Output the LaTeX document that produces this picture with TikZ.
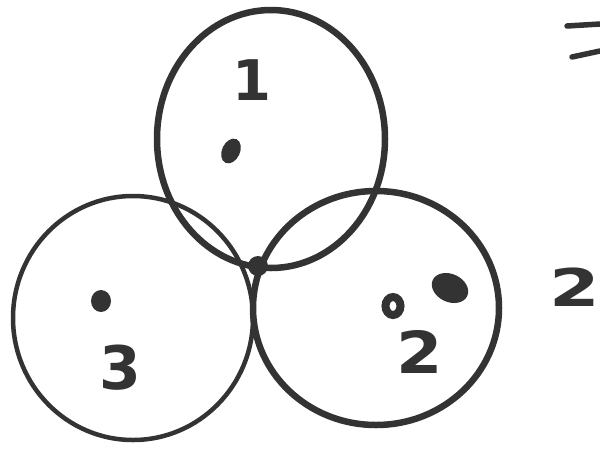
\documentclass[tikz,border=0pt]{standalone}
\usepackage{fontspec}
\setmainfont{DejaVu Sans}
\definecolor{ink}{HTML}{333333}
\begin{document}
\begin{tikzpicture}[x=1pt,y=-1pt,
  ring/.style={draw=ink,line width=6.5pt},
  thinring/.style={draw=ink,line width=4.5pt},
  stroke/.style={draw=ink,line width=5.5pt,line cap=round,line join=round},
  blob/.style={fill=ink},
  lab/.style={text=ink,font=\bfseries\fontsize{56}{56}\selectfont,inner sep=0pt}]
\useasboundingbox (0,0) rectangle (600,448);
% circles
\draw[ring] (271,139) ellipse [x radius=114, y radius=129];
\draw[thinring] (133,318) ellipse [x radius=120, y radius=122];
\draw[ring] (376,308) ellipse [x radius=123, y radius=117];
% junction
\fill[ink] (258,266) circle (10);
% dots
\fill[blob,rotate around={-25:(231,151)}] (231,151) ellipse [x radius=9, y radius=13];
\fill[blob] (101,301) ellipse [x radius=10, y radius=11];
\draw[ink,line width=8pt] (393,306) ellipse [x radius=7.5, y radius=9];
\fill[blob,rotate around={-25:(450,288)}] (450,288) ellipse [x radius=19, y radius=14];
% labels
\node[lab] (one) at (252,80) {1};
\node[lab,font=\bfseries\fontsize{58}{58}\selectfont,xscale=1.15,transform shape] (two) at (420,352) {2};
\node[lab,font=\bfseries\fontsize{60}{60}\selectfont] (three) at (120,368) {3};
\node[lab,font=\bfseries\fontsize{52}{52}\selectfont,xscale=1.4,transform shape] (twor) at (575,287) {2};
% top right strokes
\coordinate (a1) at (567,26);
\coordinate (a3) at (600,24);
\coordinate (b1) at (572,57);
\coordinate (b2) at (600,51);
\draw[stroke] (a1) -- (a3);
\draw[stroke] (b1) -- (b2);
\end{tikzpicture}
\end{document}
